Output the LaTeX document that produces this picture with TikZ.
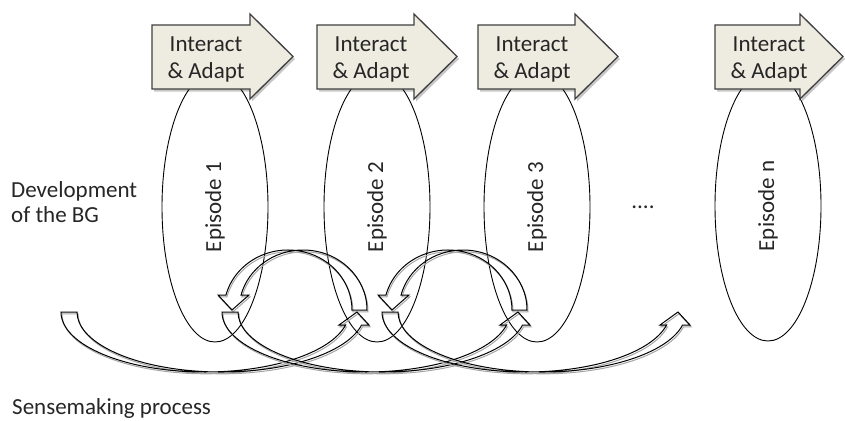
\documentclass[tikz,border=0pt]{standalone}
\usepackage{fontspec}
\setmainfont{Carlito}
\usetikzlibrary{shapes.geometric}
\definecolor{iafill}{RGB}{238,236,225}
\definecolor{iaedge}{RGB}{64,64,64}

\begin{document}
\begin{tikzpicture}[x=1pt,y=-1pt,
  every node/.style={font=\fontsize{23}{25}\selectfont, text=black!85},
  episode/.style={ellipse, draw=black, line width=0.9pt,
    minimum width=270pt, minimum height=106pt, inner sep=0pt, rotate=90},
  iashape/.style={fill=iafill, draw=iaedge, line width=1.3pt, line join=miter},
  iashadow/.style={fill=black, opacity=0.22, draw=none, shift={(2,2.5)}},
  iatext/.style={inner sep=0pt, anchor=base, font=\fontsize{23}{27}\selectfont},
  band/.style={draw=black, line width=1pt, line join=miter},
  bandshadow/.style={draw=black!35, line width=1pt, line join=miter, shift={(1,1.8)}},
  sidetext/.style={inner sep=0pt, anchor=base west}]

\useasboundingbox (0,0) rectangle (845,420);

% episodes of the development
\node[episode] (ep1) at (215,207) {Episode 1};
\node[episode] (ep2) at (377,207) {Episode 2};
\node[episode] (ep3) at (537,207) {Episode 3};
\node[episode] (epn) at (768,206) {Episode n};
\node (dots) at (643,207) {....};

% "Interact & Adapt" block arrows: left edge / body length / name
\foreach \L/\B/\n in {152/98/1, 317/97/2, 478/97/3, 715/85/4}{
  \fill[iashadow] (\L,25) -- (\L+\B,25) -- (\L+\B,14) -- (\L+\B+43,56.5)
    -- (\L+\B,99) -- (\L+\B,89) -- (\L,89) -- cycle;
  \draw[iashape] (\L,25) -- (\L+\B,25) -- (\L+\B,14) -- (\L+\B+43,56.5)
    -- (\L+\B,99) -- (\L+\B,89) -- (\L,89) -- cycle;
  \node[iatext] (ia\n) at (\L+54,52)
    {\begin{tabular}[t]{@{}c@{}}Interact\\\& Adapt\end{tabular}};
}

% sensemaking loops going back over the episodes
\foreach \s in {0,160}{
  \foreach \sty in {bandshadow,band}{
    \draw[\sty] (367+\s,310)
      arc[start angle=0, end angle=-165.52, x radius=64, y radius=60]
      -- (249+\s,295) -- (232+\s,310) -- (218+\s,295) -- (226+\s,295)
      arc[start angle=-165.52, end angle=0, x radius=64, y radius=60]
      -- cycle;
  }
}

% sensemaking loops reaching forward to the next episode
\foreach \T in {61,222,382}{
  \foreach \sty in {bandshadow,band}{
    \draw[\sty] (\T,312)
      arc[start angle=180, end angle=12.51, x radius=144, y radius=60]
      -- (\T+278,325) -- (\T+296,312) -- (\T+308,325) -- (\T+300.6,325)
      arc[start angle=12.51, end angle=180, x radius=144, y radius=60]
      -- cycle;
  }
}

% side captions
\node[sidetext] (dev) at (11,197)
  {\begin{tabular}[t]{@{}l@{}}Development\\of the BG\end{tabular}};
\node[sidetext] (sense) at (12,414) {Sensemaking process};

\end{tikzpicture}
\end{document}
